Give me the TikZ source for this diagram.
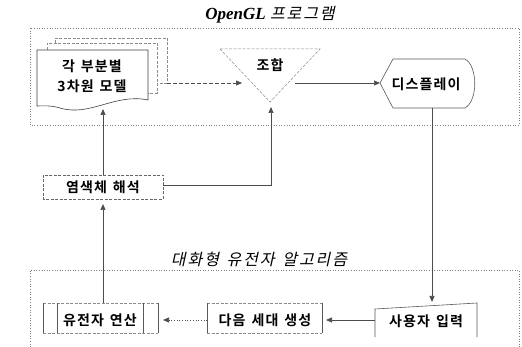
\documentclass[tikz,border=0pt]{standalone}
\usepackage{fontspec}
\setmainfont{Liberation Serif}
\newfontfamily\krb{Noto Sans CJK KR Bold}[LetterSpace=8,WordSpace=1.4]
\newfontfamily\krt{Noto Sans CJK KR}[FakeSlant=0.22,LetterSpace=12,WordSpace=1.4]
\usetikzlibrary{arrows.meta}
\tikzset{
  shp/.style={draw=black!75, line width=0.6pt},
  light/.style={draw=black!45, dash pattern=on 3pt off 1.5pt, line width=0.5pt},
  dotbox/.style={draw=black!50, dotted, line width=0.6pt},
  arr/.style={-{Triangle[length=6pt,width=5pt]}, draw=black!70, line width=0.7pt},
  lbl/.style={font=\krb\fontsize{14}{20}\selectfont, text=black, inner sep=0pt, align=center},
  ttl/.style={inner sep=0pt}
}
\begin{document}
\begin{tikzpicture}[x=1pt,y=-1pt]
\useasboundingbox (0,0) rectangle (522,347);
\fill[white] (0,0) rectangle (522,347);
% group frames
\draw[dotbox] (30,28) rectangle (519,125);
\draw[dotbox] (30,352) -- (30,270) -- (519,270) -- (519,352);
% titles
\node[ttl] (t1) at (270,15) {\fontsize{17}{20}\selectfont\bfseries\itshape OpenGL\ \krt\mdseries\upshape\fontsize{16}{20}\selectfont 프로그램};
\node[ttl] (t2) at (259,259) {\krt\fontsize{16}{20}\selectfont 대화형 유전자 알고리즘};
% document stack
\draw[light] (55,43) -- (55,38) -- (167,38) -- (167,83) -- (157,83);
\draw[light] (47,50) -- (47,43) -- (157,43) -- (157,93) -- (148,93);
\draw[shp] (37,50) -- (148,50) -- (148,100) .. controls (115,93) and (90,117) .. (60,108) .. controls (50,105) and (42,106) .. (37,106) -- cycle;
\node[lbl] (doc) at (92,76) {각 부분별\\3차원 모델};
\coordinate (docR) at (167,83);
\coordinate (docB) at (103,109);
% triangle (merge)
\draw[light] (220,49) -- (320,49) -- (270,102) -- cycle;
\node[lbl] (tri) at (270,65) {조합};
\coordinate (triL) at (242,83);
\coordinate (triR) at (295,83);
\coordinate (triB) at (271,107);
% display
\draw[shp, draw=black!65] (380,83) -- (393,59) -- (465,59) .. controls (478,66) and (478,101) .. (465,108) -- (393,108) -- cycle;
\node[lbl] (disp) at (426,84) {디스플레이};
\coordinate (dispL) at (380,83);
\coordinate (dispB) at (432,108);
% chromosome decoding
\draw[light, draw=black!60] (43,175) rectangle (163,199);
\node[lbl] (chrom) at (103,187) {염색체 해석};
\coordinate (chT) at (103,175);
\coordinate (chB) at (103,204);
\coordinate (chR) at (163,185);
\coordinate (chK) at (271,185);
% genetic operation (predefined process)
\draw[light] (43,303) -- (158,303) (43,333) -- (158,333);
\draw[shp, draw=black!65] (43,303) -- (43,333) (57,303) -- (57,333) (143,303) -- (143,333) (158,303) -- (158,333);
\node[lbl] (gen) at (100,320) {유전자 연산};
\coordinate (genT) at (103,303);
\coordinate (genR) at (163,320);
% next generation
\draw[light] (207,303) -- (322,303) (207,333) -- (322,333);
\draw[shp, draw=black!65] (207,303) -- (207,333) (322,303) -- (322,333);
\node[lbl] (next) at (265,320) {다음 세대 생성};
\coordinate (nxL) at (207,320);
\coordinate (nxR) at (326,320);
% user input (manual input)
\draw[shp, draw=black!65] (375,337) -- (375,309) -- (477,303) -- (477,337);
\node[lbl] (user) at (426,321) {사용자 입력};
\coordinate (usT) at (432,302);
\coordinate (usL) at (375,320);
% connectors
\draw[arr, dash pattern=on 4pt off 2pt] (docR) -- (triL);
\draw[arr] (triR) -- (dispL);
\draw[arr] (dispB) -- (usT);
\draw[arr] (usL) -- (nxR);
\draw[arr, dotted] (nxL) -- (genR);
\draw[arr] (genT) -- (chB);
\draw[arr] (chT) -- (docB);
\draw[arr] (chR) -- (chK) -- (triB);
\end{tikzpicture}
\end{document}
